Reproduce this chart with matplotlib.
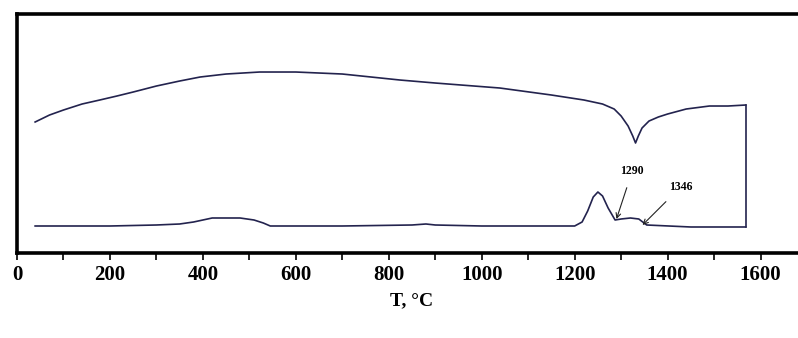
import matplotlib

matplotlib.use("Agg")
import matplotlib.pyplot as plt
from matplotlib.ticker import MultipleLocator

# upper trace (arbitrary units)
t_upper = [39, 70, 100, 140, 178, 215, 250, 300, 350, 394, 450, 522, 600, 700, 824,
           900, 1039, 1150, 1220, 1260, 1285, 1300, 1315, 1325, 1331, 1337, 1345,
           1360, 1380, 1400, 1440, 1490, 1530, 1568]
s_upper = [131, 138, 143, 149, 153, 157, 161, 167, 172, 176, 179, 181, 181, 179, 173,
           170, 165, 158, 153, 149, 144, 137, 127, 117, 110, 117, 125,
           132, 136, 139, 144, 147, 147, 148]

# lower trace (arbitrary units)
t_lower = [39, 200, 300, 350, 380, 400, 420, 480, 510, 530, 545, 700, 850, 880, 900,
           1000, 1200, 1216, 1228, 1240, 1250, 1260, 1272, 1287, 1300, 1320, 1338,
           1355, 1450, 1568]
s_lower = [27, 27, 28, 29, 31, 33, 35, 35, 33, 30, 27, 27, 28, 29, 28,
           27, 27, 31, 42, 56, 61, 57, 45, 33, 34, 35, 34,
           28, 26, 26]

peak_labels = ["1290", "1346"]
peak_temps = [1290, 1346]
peak_levels = [34, 28]

line_color = "#23234e"
serif = ["Liberation Serif", "DejaVu Serif"]

fig = plt.figure(figsize=(7.98, 3.38), dpi=100)
ax = fig.add_axes([0.0213, 0.2515, 0.99, 0.707])

ax.plot(t_upper, s_upper, color=line_color, linewidth=1.2)
ax.plot(t_lower, s_lower, color=line_color, linewidth=1.2)
# closing segment at the end of the run
ax.plot([t_upper[-1], t_lower[-1]], [s_upper[-1], s_lower[-1]], color=line_color, linewidth=1.2)

text_pos = [(1324, 82), (1428, 66)]
for lab, t, s, (tx, ty) in zip(peak_labels, peak_temps, peak_levels, text_pos):
    ax.annotate(lab, xy=(t, s), xytext=(tx, ty), ha="center", va="center",
                fontsize=8.5, fontweight="bold", family=serif,
                arrowprops=dict(arrowstyle="->", color="#222222", lw=0.8,
                                shrinkA=6, shrinkB=0))

ax.set_xlim(0, 1700)
ax.set_ylim(0, 239)
ax.set_yticks([])
ax.xaxis.set_major_locator(MultipleLocator(200))
ax.xaxis.set_minor_locator(MultipleLocator(100))
ax.tick_params(axis="x", which="both", direction="out", length=5, width=1.2, pad=4)
for lbl in ax.get_xticklabels():
    lbl.set_family(serif)
    lbl.set_fontweight("bold")
    lbl.set_fontsize(15)

for side in ("top", "bottom", "left"):
    ax.spines[side].set_linewidth(2.6)
ax.spines["right"].set_visible(False)

ax.set_xlabel("T, °C", fontsize=14, fontweight="bold", family=serif, labelpad=5)

fig.savefig("out.png", dpi=100)
